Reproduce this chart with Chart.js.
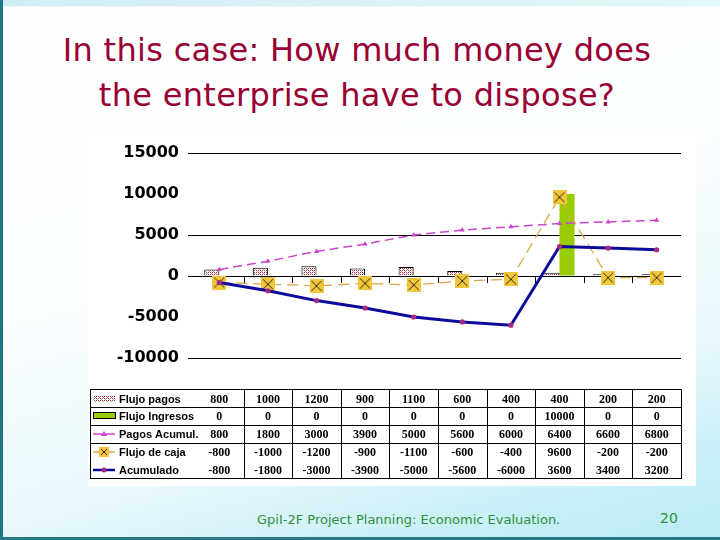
<!DOCTYPE html>
<html>
<head>
<meta charset="utf-8">
<script src="https://cdn.jsdelivr.net/npm/chart.js@4"></script>
<style>
  html,body{margin:0;padding:0;}
  body{width:720px;height:540px;position:relative;overflow:hidden;
    background:linear-gradient(165deg,#ffffff 0%,#fbfeff 45%,#e8f8fb 72%,#c6eff7 90%,#bdebf5 100%);
    font-family:"DejaVu Sans",sans-serif;}
  #topstrip{position:absolute;left:0;top:0;width:720px;height:6px;background:linear-gradient(to right,#cfeef3,#e4f6f9);border-bottom:1px solid #eef9fb;}
  #leftbar{position:absolute;left:0;top:0;width:3px;height:540px;background:#1f7487;}
  #bottombar{position:absolute;left:0;top:537px;width:720px;height:3px;background:#2a7888;}
  #title{position:absolute;left:0;top:28px;width:714px;text-align:center;color:#990033;
    font-family:"DejaVu Sans",sans-serif;font-size:32px;line-height:45px;letter-spacing:0.3px;}
  #box{position:absolute;left:88px;top:130px;width:608px;height:356px;background:#fff;}
  #footer{position:absolute;left:257px;top:512px;color:#2f8f3a;font-size:13px;font-family:"DejaVu Sans",sans-serif;}
  #page{position:absolute;left:660px;top:510px;color:#2f8f3a;font-size:14px;font-family:"DejaVu Sans",sans-serif;}
</style>
</head>
<body>
<div id="topstrip"></div>
<div id="leftbar"></div>
<div id="bottombar"></div>
<div id="title">In this case: How much money does<br>the enterprise have to dispose?</div>
<div id="box"><canvas id="c" width="608" height="356"></canvas></div>
<div id="footer">GpiI-2F Project Planning: Economic Evaluation.</div>
<div id="page">20</div>
<script>
const periods = ['1','2','3','4','5','6','7','8','9','10'];
const flujoPagos = [800,1000,1200,900,1100,600,400,400,200,200];
const flujoIngresos = [0,0,0,0,0,0,0,10000,0,0];
const pagosAcumul = [800,1800,3000,3900,5000,5600,6000,6400,6600,6800];
const flujoCaja = [-800,-1000,-1200,-900,-1100,-600,-400,9600,-200,-200];
const acumulado = [-800,-1800,-3000,-3900,-5000,-5600,-6000,3600,3400,3200];
const seriesNames = ['Flujo pagos','Flujo Ingresos','Pagos Acumul.','Flujo de caja','Acumulado'];
const yTicks = [-10000,-5000,0,5000,10000,15000];
const gridValues = [-10000,0,5000,15000];

// pattern for Flujo pagos
const pc = document.createElement('canvas'); pc.width=4; pc.height=4;
const pctx = pc.getContext('2d');
pctx.fillStyle='#ffffff'; pctx.fillRect(0,0,4,4);
pctx.fillStyle='#a8303c'; pctx.fillRect(0,0,1,1); pctx.fillRect(2,2,1,1); pctx.fillRect(2,0,1,1);pctx.fillRect(0,2,1,1);
pctx.fillStyle='#d89098'; pctx.fillRect(1,1,1,1); pctx.fillRect(3,3,1,1);
const pattern = pctx.createPattern(pc,'repeat');

// marker for Flujo de caja
function xMarker(size){
  const m = document.createElement('canvas'); m.width=size; m.height=size;
  const g = m.getContext('2d');
  g.fillStyle='#f0c63c'; g.fillRect(0,0,size,size);
  g.strokeStyle='#3a2a00'; g.lineWidth=1;
  g.beginPath(); g.moveTo(2,2); g.lineTo(size-2,size-2); g.moveTo(size-2,2); g.lineTo(2,size-2); g.stroke();
  return m;
}
const cajaMarker = xMarker(14);

const PAGOS_COL = '#cc44cc', CAJA_COL = '#dba845', ACUM_COL = '#0c0c9c', ACUM_PT = '#a82a80', GREEN = '#99cc00';

const extras = {
  id:'extras',
  beforeDatasetsDraw(chart){
    const {ctx, scales:{x,y}} = chart;
    const y0 = y.getPixelForValue(0);
    ctx.save(); ctx.strokeStyle='#000'; ctx.lineWidth=1;
    for(let i=1;i<periods.length;i++){
      const px = Math.round((x.getPixelForValue(i-1)+x.getPixelForValue(i))/2)+0.5;
      ctx.beginPath(); ctx.moveTo(px,y0); ctx.lineTo(px,y0+7); ctx.stroke();
    }
    ctx.restore();
  },
  afterDraw(chart){
    const {ctx, chartArea:a, scales:{x}} = chart;
    const left=2.5, right=Math.round(a.right)+0.5, top=259.5, bottom=348.5;
    const rowLines=[277.5,295.5,313.5];
    const rowMid=[269,286,304,322,340];
    ctx.save();
    ctx.strokeStyle='#000'; ctx.lineWidth=1;
    ctx.strokeRect(left,top,right-left,bottom-top);
    ctx.beginPath();
    rowLines.forEach(r=>{ctx.moveTo(left,r);ctx.lineTo(right,r);});
    for(let i=1;i<periods.length;i++){
      const px = Math.round((x.getPixelForValue(i-1)+x.getPixelForValue(i))/2)+0.5;
      ctx.moveTo(px,top); ctx.lineTo(px,bottom);
    }
    ctx.stroke();
    // values
    const rows=[flujoPagos,flujoIngresos,pagosAcumul,flujoCaja,acumulado];
    ctx.fillStyle='#000'; ctx.font='bold 12px "Liberation Serif"'; ctx.textAlign='center'; ctx.textBaseline='middle';
    rows.forEach((r,ri)=>r.forEach((v,i)=>ctx.fillText(String(v),x.getPixelForValue(i),rowMid[ri]+1)));
    // labels
    ctx.font='bold 11px "Liberation Sans"'; ctx.textAlign='left';
    seriesNames.forEach((n,ri)=>ctx.fillText(n,31,rowMid[ri]+1));
    // keys
    const kx0=5, kx1=27, kc=16;
    ctx.fillStyle=pattern; ctx.fillRect(kx0,rowMid[0]-3,kx1-kx0,6);
    ctx.fillStyle=GREEN; ctx.fillRect(kx0,rowMid[1]-3,kx1-kx0,6);
    ctx.strokeStyle='#000'; ctx.strokeRect(kx0+0.5,rowMid[1]-3.5,kx1-kx0,6);
    ctx.strokeStyle=PAGOS_COL; ctx.lineWidth=1.5; ctx.beginPath(); ctx.moveTo(kx0,rowMid[2]); ctx.lineTo(kx1,rowMid[2]); ctx.stroke();
    ctx.fillStyle=PAGOS_COL; ctx.beginPath(); ctx.moveTo(kc,rowMid[2]-3); ctx.lineTo(kc+3,rowMid[2]+2); ctx.lineTo(kc-3,rowMid[2]+2); ctx.closePath(); ctx.fill();
    ctx.strokeStyle=CAJA_COL; ctx.beginPath(); ctx.moveTo(kx0,rowMid[3]); ctx.lineTo(kx1,rowMid[3]); ctx.stroke();
    ctx.drawImage(xMarker(10),kc-5,rowMid[3]-5);
    ctx.strokeStyle=ACUM_COL; ctx.lineWidth=2.5; ctx.beginPath(); ctx.moveTo(kx0,rowMid[4]); ctx.lineTo(kx1,rowMid[4]); ctx.stroke();
    ctx.fillStyle=ACUM_PT; ctx.beginPath(); ctx.arc(kc,rowMid[4],2.5,0,Math.PI*2); ctx.fill();
    ctx.restore();
  }
};

new Chart(document.getElementById('c'),{
  type:'bar',
  data:{
    labels:periods,
    datasets:[
      {type:'line',label:seriesNames[2],data:pagosAcumul,borderColor:PAGOS_COL,backgroundColor:PAGOS_COL,borderWidth:1.5,borderDash:[9,5],
        pointStyle:'triangle',pointRadius:3,pointBorderWidth:0,pointBackgroundColor:PAGOS_COL,pointBorderColor:PAGOS_COL,order:1,tension:0},
      {type:'line',label:seriesNames[4],data:acumulado,borderColor:ACUM_COL,backgroundColor:ACUM_COL,borderWidth:3,
        pointStyle:'circle',pointRadius:2.6,pointBorderWidth:0,pointBackgroundColor:ACUM_PT,pointBorderColor:ACUM_PT,order:2,tension:0},
      {type:'line',label:seriesNames[3],data:flujoCaja,borderColor:CAJA_COL,backgroundColor:CAJA_COL,borderWidth:1.3,borderDash:[11,6],
        pointStyle:cajaMarker,pointRadius:7,order:3,tension:0},
      {label:seriesNames[0],data:flujoPagos,backgroundColor:pattern,borderColor:'#000',borderWidth:1,order:5,
        categoryPercentage:0.62,barPercentage:1},
      {label:seriesNames[1],data:flujoIngresos,backgroundColor:GREEN,borderColor:GREEN,borderWidth:0,order:5,
        categoryPercentage:0.62,barPercentage:1}
    ]
  },
  options:{
    responsive:false,animation:false,
    layout:{padding:{left:0,right:15,top:23,bottom:128}},
    plugins:{legend:{display:false},tooltip:{enabled:false}},
    scales:{
      x:{display:false},
      y:{min:-10000,max:15000,
        afterBuildTicks:s=>{s.ticks=yTicks.map(v=>({value:v}));},
        afterFit:s=>{s.width=107;},
        border:{display:false},
        grid:{color:c=>gridValues.includes(c.tick.value)?'#000':'rgba(0,0,0,0)',lineWidth:1,tickLength:7},
        ticks:{color:'#000',padding:9,font:{family:'"DejaVu Sans"',weight:'bold',size:16},callback:v=>String(v)}
      }
    }
  },
  plugins:[extras]
});
</script>
</body>
</html>
